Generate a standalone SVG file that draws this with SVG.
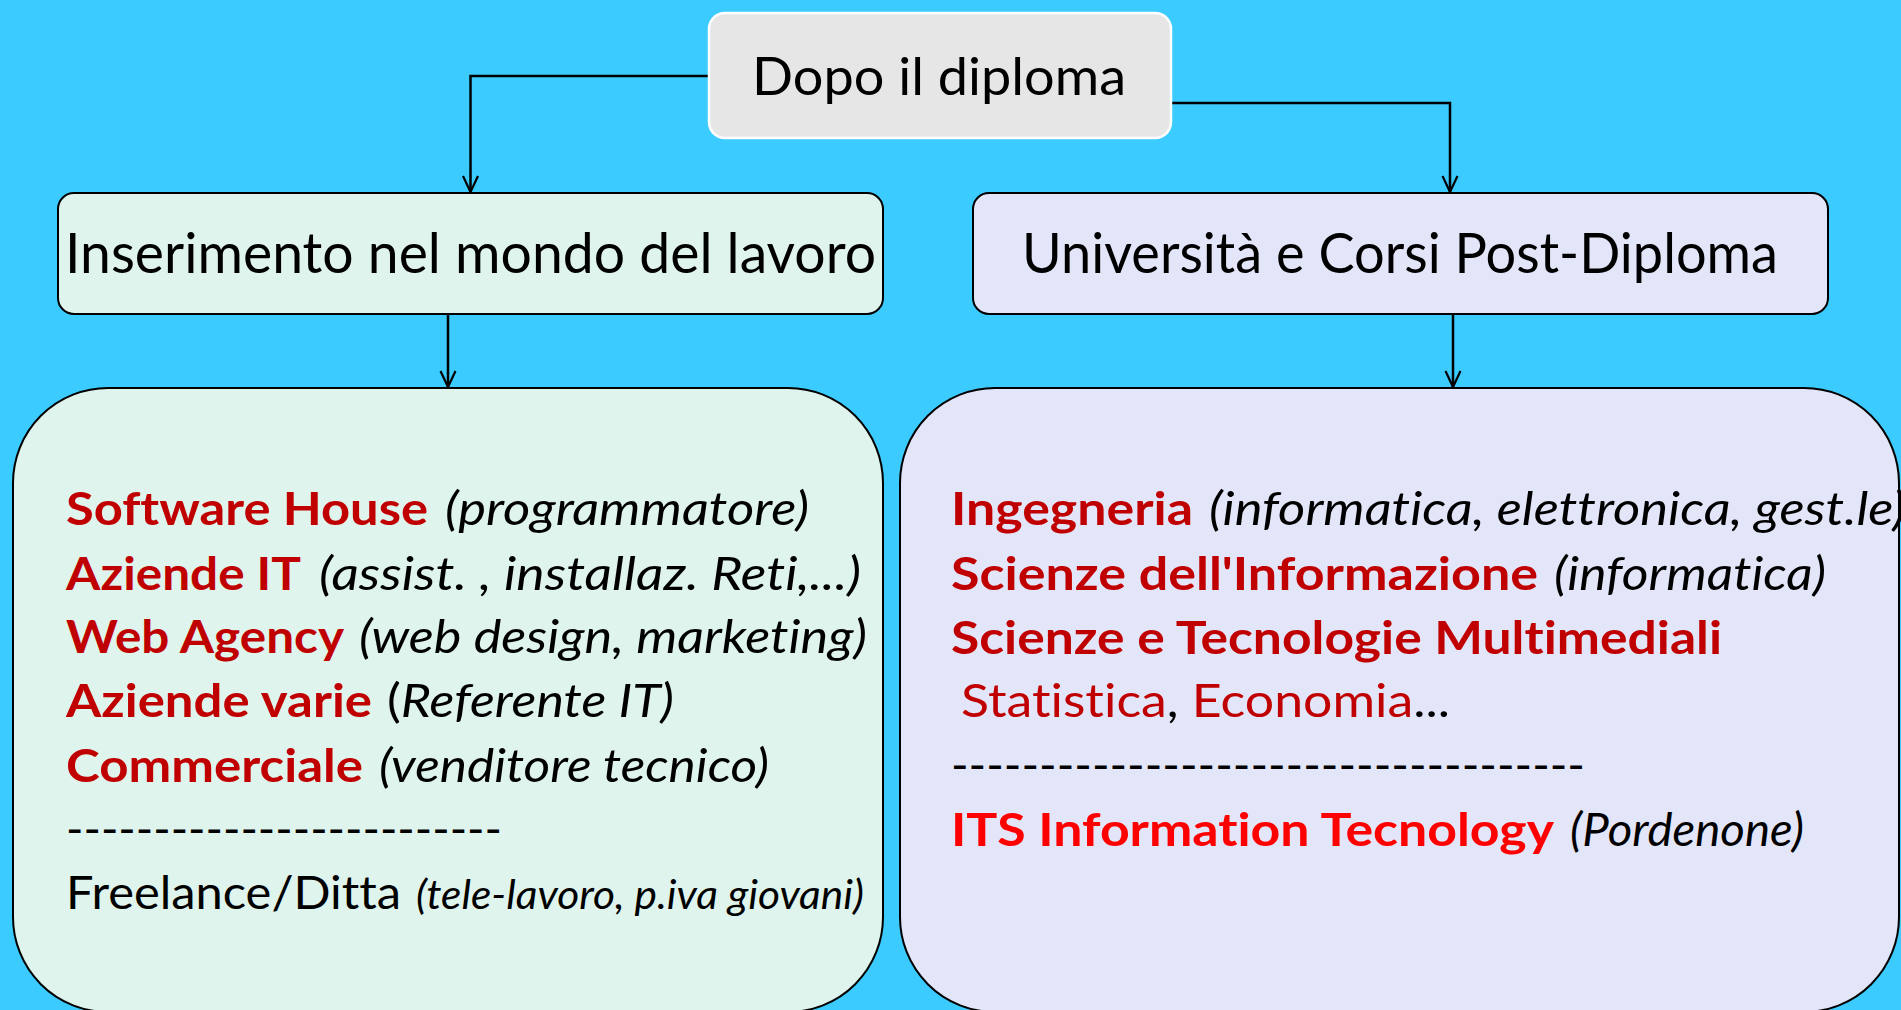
<svg xmlns="http://www.w3.org/2000/svg" width="1901" height="1010" viewBox="0 0 1901 1010">
<style>
text{font-family:Lato,"Open Sans","Liberation Sans",sans-serif;fill:#000;font-variant-ligatures:none}
.h{font-size:52px}
.m{font-size:56px}
.b{font-size:46px;font-weight:bold;fill:#c00000}
.its{fill:#ff0000}
.i{font-size:46px;font-style:italic}
.r{font-size:46px}
.s{font-size:41px;font-style:italic}
.conn{fill:none;stroke:#000;stroke-width:2.5}
.box{stroke:#000;stroke-width:2}
</style>
<defs>
<marker id="ah" viewBox="-18 -10 20 20" markerWidth="20" markerHeight="20" refX="0" refY="0" orient="auto" markerUnits="userSpaceOnUse">
<path d="M-16,-7.5 L0,0 L-16,7.5" fill="none" stroke="#000" stroke-width="2.2"/>
</marker>
</defs>
<rect width="1901" height="1010" fill="#3ccbff"/>
<g id="connectors">
<path class="conn" d="M709,76 H470.5 V192" marker-end="url(#ah)"/>
<path class="conn" d="M1171,103 H1450 V192" marker-end="url(#ah)"/>
<path class="conn" d="M448,314 V387" marker-end="url(#ah)"/>
<path class="conn" d="M1453,314 V387" marker-end="url(#ah)"/>
</g>
<g id="node-dopo">
<rect x="709" y="13" width="462" height="125" rx="16" fill="#e6e6e6" stroke="#fff" stroke-width="2.5"/>
<text class="h" x="752" y="95" textLength="374" lengthAdjust="spacingAndGlyphs">Dopo il diploma</text>
</g>
<g id="node-lavoro">
<rect class="box" x="58" y="193" width="825" height="121" rx="16" fill="#dff4ec"/>
<text class="m" x="65" y="273" textLength="811" lengthAdjust="spacingAndGlyphs">Inserimento nel mondo del lavoro</text>
</g>
<g id="node-universita">
<rect class="box" x="973" y="193" width="855" height="121" rx="16" fill="#e3e5f8"/>
<text class="m" x="1022" y="273" textLength="756" lengthAdjust="spacingAndGlyphs">Università e Corsi Post-Diploma</text>
</g>
<g id="node-lavoro-list">
<rect class="box" x="13" y="388" width="870" height="624" rx="95" fill="#dff4ec"/>
<text class="b" x="66" y="525" textLength="362" lengthAdjust="spacingAndGlyphs">Software House</text>
<text class="i" x="445" y="525" textLength="364" lengthAdjust="spacingAndGlyphs">(programmatore)</text>
<text class="b" x="66" y="590" textLength="235" lengthAdjust="spacingAndGlyphs">Aziende IT</text>
<text class="i" x="319" y="590" textLength="542" lengthAdjust="spacingAndGlyphs">(assist. , installaz. Reti,...)</text>
<text class="b" x="66" y="653" textLength="278" lengthAdjust="spacingAndGlyphs">Web Agency</text>
<text class="i" x="359" y="653" textLength="508" lengthAdjust="spacingAndGlyphs">(web design, marketing)</text>
<text class="b" x="66" y="717" textLength="306" lengthAdjust="spacingAndGlyphs">Aziende varie</text>
<text class="r" x="387" y="717" textLength="287" lengthAdjust="spacingAndGlyphs">(<tspan font-style="italic">Referente IT)</tspan></text>
<text class="b" x="66" y="782" textLength="297" lengthAdjust="spacingAndGlyphs">Commerciale</text>
<text class="i" x="379" y="782" textLength="390" lengthAdjust="spacingAndGlyphs">(venditore tecnico)</text>
<text class="r" x="66" y="845" textLength="436" lengthAdjust="spacingAndGlyphs">-------------------------</text>
<text class="r" x="66" y="909" textLength="335" lengthAdjust="spacingAndGlyphs">Freelance/Ditta</text>
<text class="s" x="416" y="909" textLength="448" lengthAdjust="spacingAndGlyphs">(tele-lavoro, p.iva giovani)</text>
</g>
<g id="node-universita-list">
<rect class="box" x="900" y="388" width="999" height="624" rx="95" fill="#e3e5f8"/>
<text class="b" x="951" y="525" textLength="242" lengthAdjust="spacingAndGlyphs">Ingegneria</text>
<text class="i" x="1209" y="525" textLength="697" lengthAdjust="spacingAndGlyphs">(informatica, elettronica, gest.le)</text>
<text class="b" x="951" y="590" textLength="587" lengthAdjust="spacingAndGlyphs">Scienze dell'Informazione</text>
<text class="i" x="1554" y="590" textLength="272" lengthAdjust="spacingAndGlyphs">(informatica)</text>
<text class="b" x="951" y="654" textLength="771" lengthAdjust="spacingAndGlyphs">Scienze e Tecnologie Multimediali</text>
<text class="r" x="961" y="717" textLength="489" lengthAdjust="spacingAndGlyphs"><tspan fill="#c00000">Statistica</tspan>, <tspan fill="#c00000">Economia</tspan>...</text>
<text class="r" x="951" y="781" textLength="634" lengthAdjust="spacingAndGlyphs">------------------------------------</text>
<text class="b its" x="951" y="846" textLength="603" lengthAdjust="spacingAndGlyphs">ITS Information Tecnology</text>
<text class="i" x="1570" y="846" textLength="234" lengthAdjust="spacingAndGlyphs">(Pordenone)</text>
</g>
</svg>
